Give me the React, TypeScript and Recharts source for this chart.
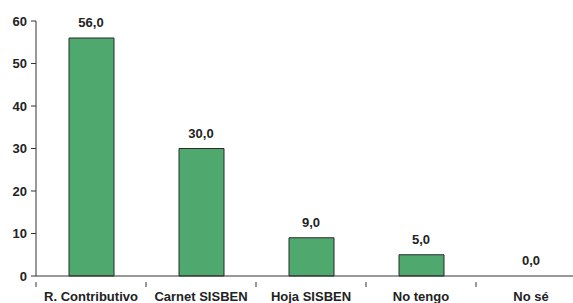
import { ComposedChart, Bar, Line, XAxis, YAxis, LabelList } from 'recharts';

const categories = ['R. Contributivo', 'Carnet SISBEN', 'Hoja SISBEN', 'No tengo', 'No sé'];
const values = [56.0, 30.0, 9.0, 5.0, 0.0];
const yTicks = [0, 10, 20, 30, 40, 50, 60];

const data = categories.map((name, i) => ({ name, value: values[i] }));

const CHART_W = 590;
const MARGIN = { top: 21, right: 4, left: 0, bottom: 0 };
const Y_W = 36;
const BAND = (CHART_W - MARGIN.left - MARGIN.right - Y_W) / categories.length;

const font = '"Liberation Sans", Arial, sans-serif';

// category tick: label at centre, tick mark on the left boundary (and the right one for the last)
const CatTick = (props: any) => {
  const { x, y, payload, index } = props;
  const axisY = y - 8;
  return (
    <g>
      <line x1={x - BAND / 2} x2={x - BAND / 2} y1={axisY} y2={axisY + 5} stroke="#333" />
      {index === categories.length - 1 && (
        <line x1={x + BAND / 2} x2={x + BAND / 2} y1={axisY} y2={axisY + 5} stroke="#333" />
      )}
      <text x={x} y={y + 11} textAnchor="middle" fontSize={13} fontWeight="bold" fill="#222" fontFamily={font}>
        {payload.value}
      </text>
    </g>
  );
};

export default function App() {
  return (
    <div style={{ position: 'absolute', left: 0, top: 0, width: 573, height: 303, overflow: 'hidden', background: '#fff' }}>
      <ComposedChart width={CHART_W} height={303} data={data} margin={MARGIN}>
        <XAxis
          dataKey="name"
          height={27}
          stroke="#333"
          tickLine={false}
          tick={<CatTick />}
          tickMargin={8}
          interval={0}
        />
        <YAxis
          width={Y_W}
          domain={[0, 60]}
          ticks={yTicks}
          stroke="#333"
          tickSize={5}
          tickMargin={4}
          tick={{ fontSize: 13, fontWeight: 'bold', fill: '#222', fontFamily: font }}
        />
        <Bar dataKey="value" fill="#4FA86E" stroke="#2b2b2b" strokeWidth={1} barSize={45} isAnimationActive={false} />
        {/* invisible series only to carry the value labels (including 0,0) */}
        <Line dataKey="value" stroke="none" dot={false} activeDot={false} isAnimationActive={false}>
          <LabelList
            dataKey="value"
            position="top"
            offset={11}
            formatter={(v: any) => Number(v).toFixed(1).replace('.', ',')}
            style={{ fontSize: 13, fontWeight: 'bold', fill: '#222', fontFamily: font }}
          />
        </Line>
      </ComposedChart>
    </div>
  );
}
